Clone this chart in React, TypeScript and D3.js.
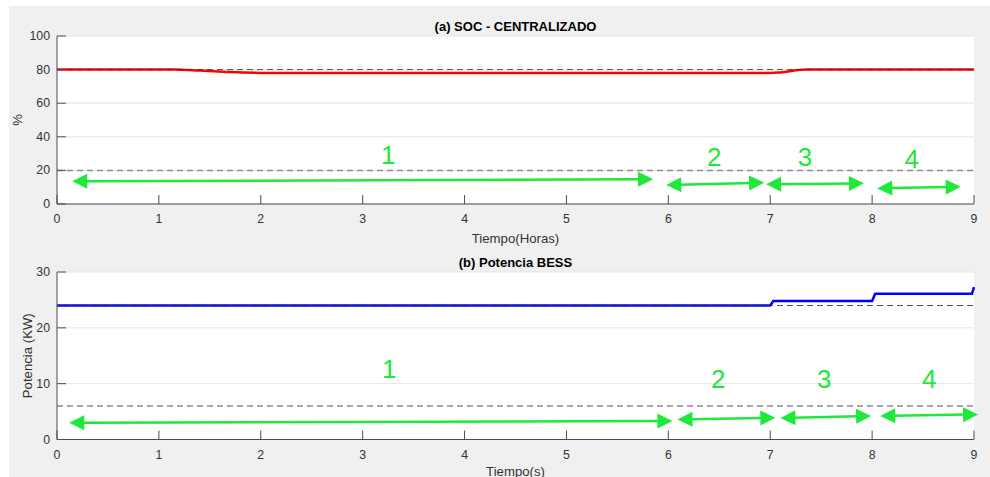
import React from "react";
import * as d3 from "d3";

const xTicks = [0, 1, 2, 3, 4, 5, 6, 7, 8, 9];
const socTicks = [0, 20, 40, 60, 80, 100];
const powTicks = [0, 10, 20, 30];

const socTime = [0, 1.15, 1.4, 1.7, 2.0, 2.1, 7.0, 7.1, 7.35, 9];
const socValue = [80, 80, 79.4, 78.5, 78.05, 78, 78, 78.3, 80, 80];
const socUpperRef = 80;
const socLowerRef = 20;

const powTime = [0, 7, 7.03, 8, 8.03, 8.98, 9];
const powValue = [24, 24, 24.8, 24.8, 26.1, 26.1, 27.3];
const powUpperRef = 24;
const powLowerRef = 6;

// arrows: [x1, y1, x2, y2]
const socArrows = [
  [0.15, 13.5, 5.85, 14.7],
  [5.98, 11.3, 6.94, 12.7],
  [6.96, 11.7, 7.92, 12.3],
  [8.05, 9.3, 8.87, 10.3],
];
const socLabels = ["1", "2", "3", "4"];
const socLabelX = [3.25, 6.45, 7.34, 8.39];
const socLabelY = [29, 28, 28, 26.5];

const powArrows = [
  [0.12, 3.0, 6.04, 3.3],
  [6.09, 3.6, 7.05, 3.9],
  [7.1, 3.85, 7.99, 4.2],
  [8.08, 4.2, 9.04, 4.5],
];
const powLabels = ["1", "2", "3", "4"];
const powLabelX = [3.26, 6.49, 7.53, 8.56];
const powLabelY = [12.6, 10.9, 10.9, 10.9];

const GREEN = "#1ee83a";
const AXIS = "#4d4d4d";
const TXT = "#333333";
const FONT = "'Liberation Sans', Arial, Helvetica, sans-serif";

function Arrow({ x1, y1, x2, y2 }: { x1: number; y1: number; x2: number; y2: number }) {
  const dx = x2 - x1;
  const dy = y2 - y1;
  const len = Math.hypot(dx, dy);
  const ux = dx / len;
  const uy = dy / len;
  const hl = 15;
  const hw = 7.5;
  const px = -uy;
  const py = ux;
  const head = (tx: number, ty: number, dirx: number, diry: number) => {
    const bx = tx - dirx * hl;
    const by = ty - diry * hl;
    return `M${tx},${ty}L${bx + px * hw},${by + py * hw}L${bx - px * hw},${by - py * hw}Z`;
  };
  return (
    <g>
      <line
        x1={x1 + ux * (hl - 2)}
        y1={y1 + uy * (hl - 2)}
        x2={x2 - ux * (hl - 2)}
        y2={y2 - uy * (hl - 2)}
        stroke={GREEN}
        strokeWidth={2.5}
      />
      <path d={head(x2, y2, ux, uy)} fill={GREEN} />
      <path d={head(x1, y1, -ux, -uy)} fill={GREEN} />
    </g>
  );
}

function Panel(props: {
  top: number;
  bottom: number;
  yMax: number;
  yTicks: number[];
  title: string;
  xLabel: string;
  yLabel: string;
  yLabelX: number;
  times: number[];
  values: number[];
  color: string;
  upperRef: number;
  lowerRef: number;
  arrows: number[][];
  labels: string[];
  labelX: number[];
  labelY: number[];
  xLabelY: number;
}) {
  const left = 57;
  const right = 974;
  const x = d3.scaleLinear().domain([0, 9]).range([left, right]);
  const y = d3.scaleLinear().domain([0, props.yMax]).range([props.bottom, props.top]);
  const pts = props.times.map((t, i) => [t, props.values[i]] as [number, number]);
  const line = d3
    .line<[number, number]>()
    .x((d) => x(d[0]))
    .y((d) => y(d[1]))
    .curve(props.color === "#ff0000" ? d3.curveMonotoneX : d3.curveLinear);
  return (
    <g fontFamily={FONT}>
      <rect x={left} y={props.top} width={right - left} height={props.bottom - props.top} fill="#ffffff" />
      {props.yTicks.map((t) => (
        <line key={"g" + t} x1={left} x2={right} y1={y(t)} y2={y(t)} stroke="#e6e6e6" strokeWidth={1} />
      ))}
      <line x1={left} x2={right} y1={y(props.lowerRef)} y2={y(props.lowerRef)} stroke="#8c8c8c" strokeWidth={1.5} strokeDasharray="6,4" />
      <path d={line(pts) || ""} fill="none" stroke={props.color} strokeWidth={2.5} />
      <line x1={left} x2={right} y1={y(props.upperRef)} y2={y(props.upperRef)} stroke="#333333" strokeWidth={1} strokeDasharray="6,4" strokeOpacity={0.85} />
      {props.arrows.map((a, i) => (
        <Arrow key={"a" + i} x1={x(a[0])} y1={y(a[1])} x2={x(a[2])} y2={y(a[3])} />
      ))}
      {props.labels.map((l, i) => (
        <text key={"l" + i} x={x(props.labelX[i])} y={y(props.labelY[i])} fill={GREEN} fontSize={26} textAnchor="middle" dominantBaseline="central">
          {l}
        </text>
      ))}
      {/* axes */}
      <line x1={left} x2={right} y1={props.bottom} y2={props.bottom} stroke={AXIS} strokeWidth={1} />
      <line x1={left} x2={left} y1={props.top} y2={props.bottom} stroke={AXIS} strokeWidth={1} />
      {xTicks.map((t) => (
        <g key={"xt" + t}>
          <line x1={x(t)} x2={x(t)} y1={props.bottom} y2={props.bottom - 9} stroke={AXIS} strokeWidth={1} />
          <text x={x(t)} y={props.bottom + 15} fontSize={12.3} fill={TXT} textAnchor="middle" dominantBaseline="central">
            {t}
          </text>
        </g>
      ))}
      {props.yTicks.map((t) => (
        <g key={"yt" + t}>
          <line x1={left} x2={left + 9} y1={y(t)} y2={y(t)} stroke={AXIS} strokeWidth={1} />
          <text x={left - 7} y={y(t)} fontSize={12.3} fill={TXT} textAnchor="end" dominantBaseline="central">
            {t}
          </text>
        </g>
      ))}
      <text x={(left + right) / 2} y={props.top - 10} fontSize={13} fontWeight="bold" fill="#000" textAnchor="middle" dominantBaseline="central">
        {props.title}
      </text>
      <text x={(left + right) / 2} y={props.xLabelY} fontSize={13.2} fill={TXT} textAnchor="middle" dominantBaseline="central">
        {props.xLabel}
      </text>
      <text
        transform={`translate(${props.yLabelX},${(props.top + props.bottom) / 2}) rotate(-90)`}
        fontSize={13.2}
        fill={TXT}
        textAnchor="middle"
        dominantBaseline="central"
      >
        {props.yLabel}
      </text>
    </g>
  );
}

export default function App() {
  return (
    <svg width={990} height={477} style={{ position: "absolute", left: 0, top: 0, display: "block" }}>
      <rect x={0} y={0} width={990} height={477} fill="#ffffff" />
      <rect x={9} y={6} width={981} height={471} fill="#f0f0f0" />
      <Panel
        top={36}
        bottom={204}
        yMax={100}
        yTicks={socTicks}
        title="(a) SOC - CENTRALIZADO"
        xLabel="Tiempo(Horas)"
        yLabel="%"
        yLabelX={17}
        times={socTime}
        values={socValue}
        color="#ff0000"
        upperRef={socUpperRef}
        lowerRef={socLowerRef}
        arrows={socArrows}
        labels={socLabels}
        labelX={socLabelX}
        labelY={socLabelY}
        xLabelY={238}
      />
      <Panel
        top={272}
        bottom={439.5}
        yMax={30}
        yTicks={powTicks}
        title="(b) Potencia BESS"
        xLabel="Tiempo(s)"
        yLabel="Potencia (KW)"
        yLabelX={27}
        times={powTime}
        values={powValue}
        color="#0000ff"
        upperRef={powUpperRef}
        lowerRef={powLowerRef}
        arrows={powArrows}
        labels={powLabels}
        labelX={powLabelX}
        labelY={powLabelY}
        xLabelY={471.5}
      />
    </svg>
  );
}
